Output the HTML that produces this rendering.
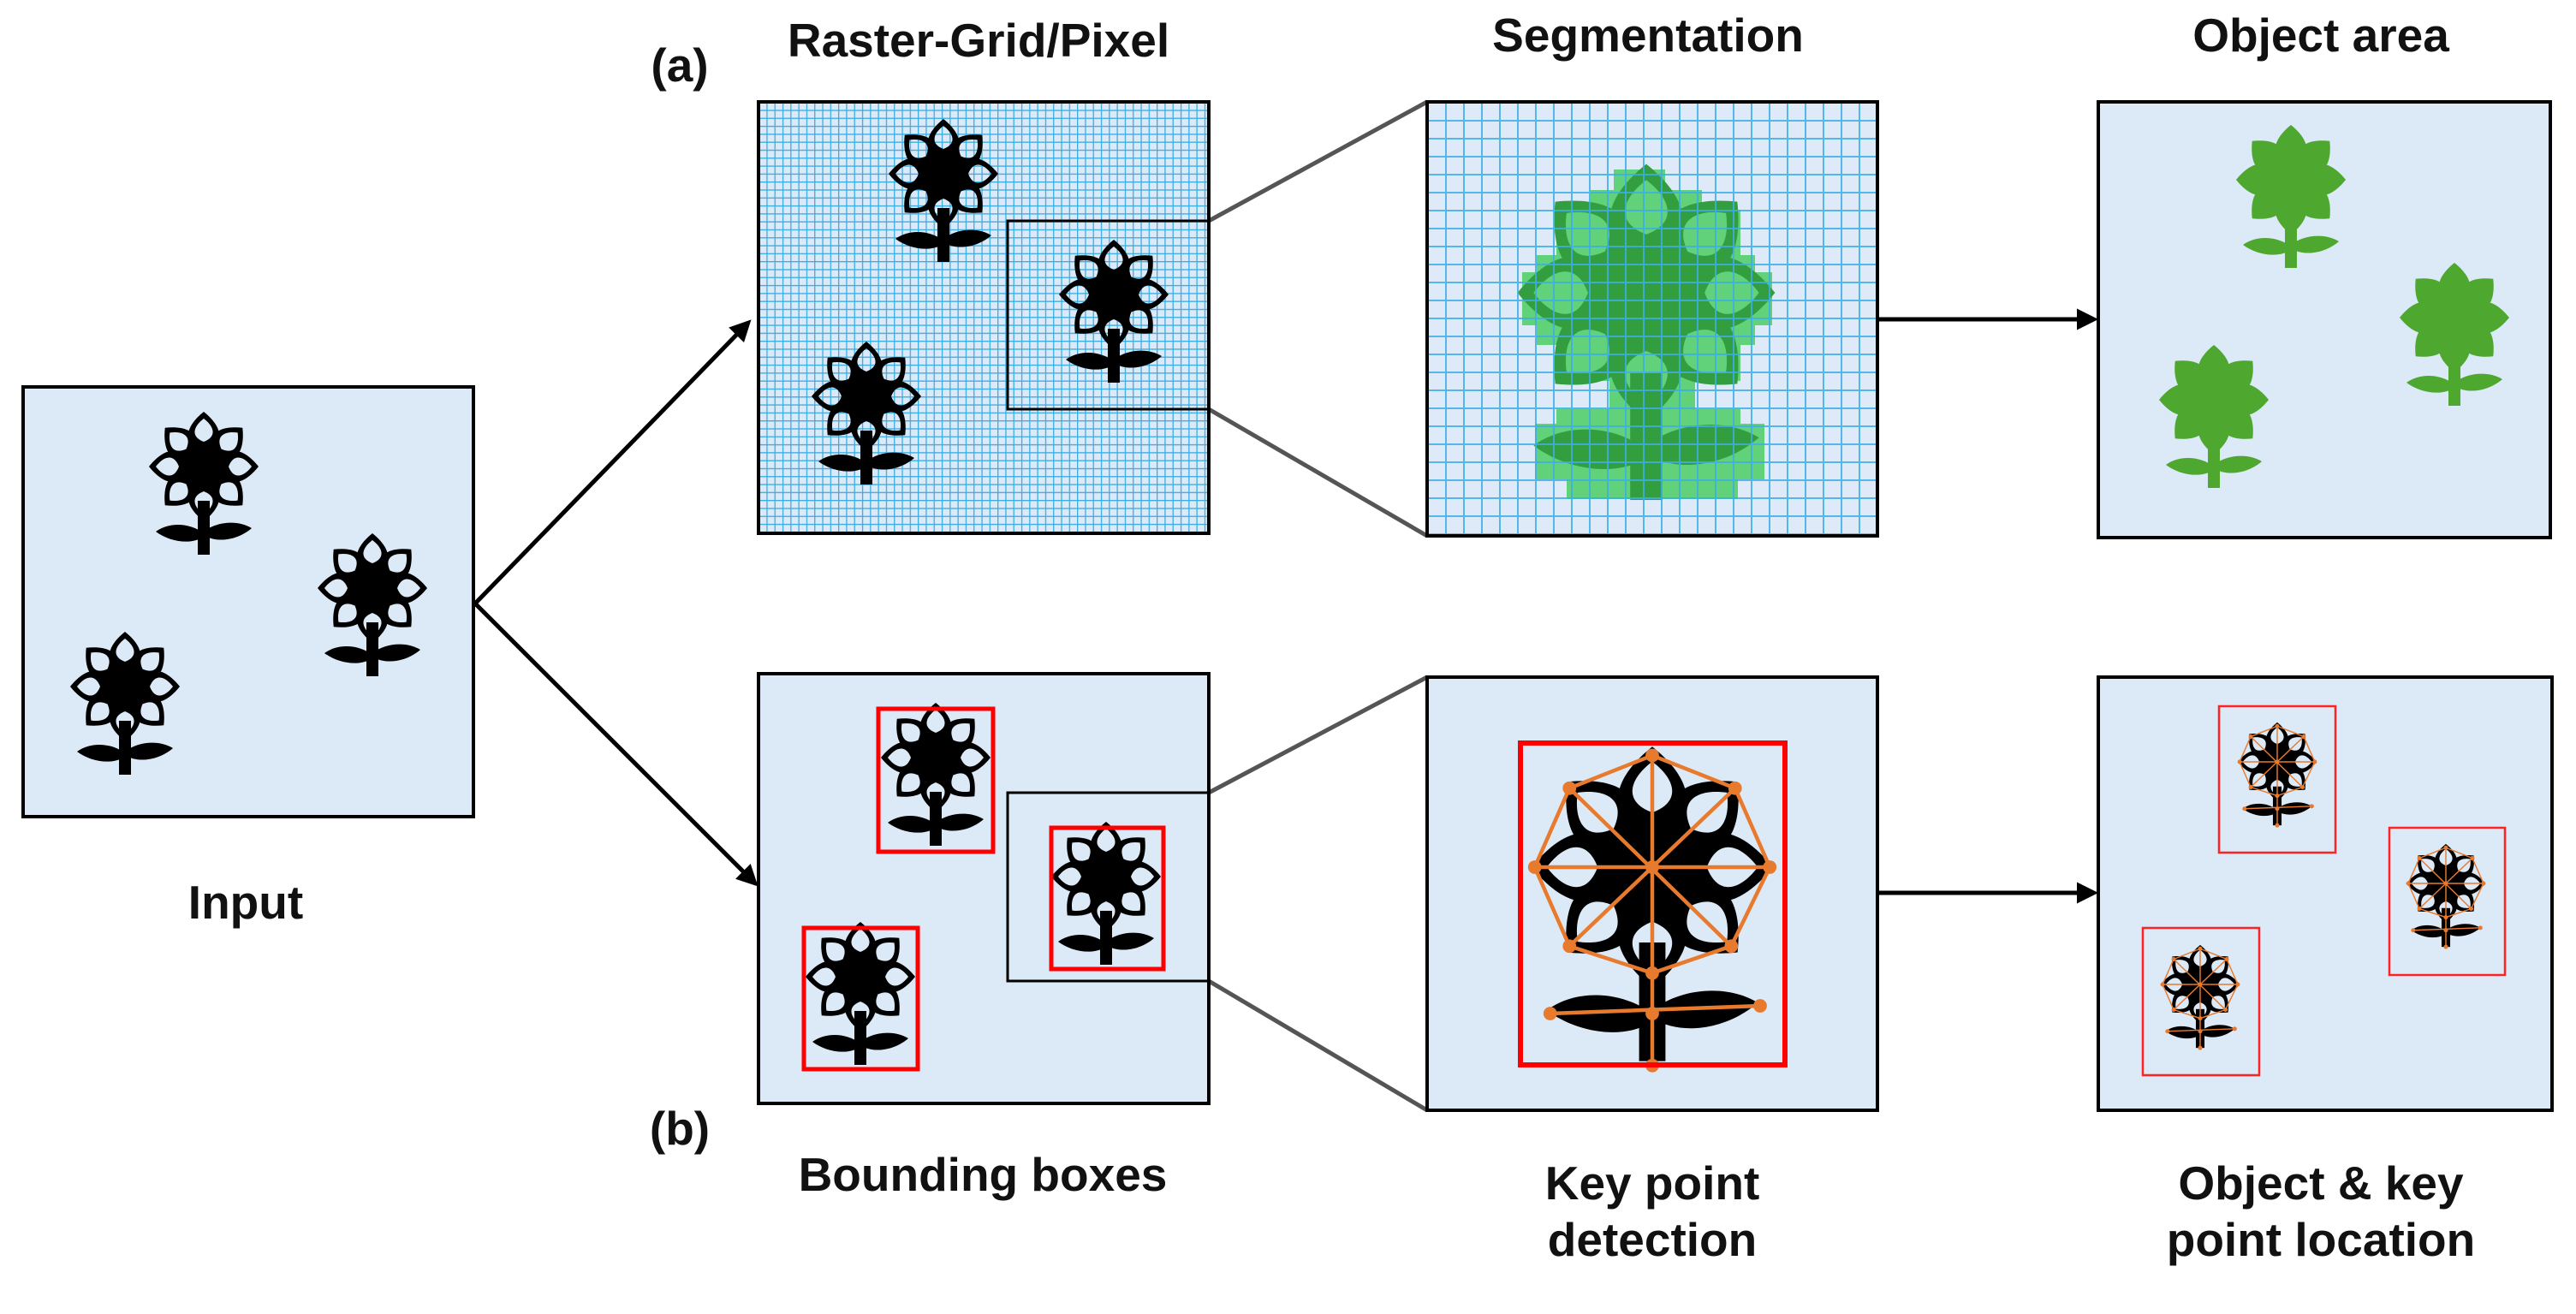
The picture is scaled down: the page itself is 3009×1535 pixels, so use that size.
<!DOCTYPE html>
<html><head><meta charset="utf-8"><style>html,body{margin:0;padding:0;background:#fff}svg{display:block}</style></head>
<body>
<svg width="3009" height="1535" viewBox="0 0 3009 1535" xmlns="http://www.w3.org/2000/svg">
<defs>
<pattern id="g1" x="886" y="119" width="9.3" height="9.3" patternUnits="userSpaceOnUse">
<rect width="9.3" height="9.3" fill="#dce9f8"/>
<path d="M0,0 H9.3 M0,0 V9.3" stroke="#3aaee0" stroke-width="2.6"/>
</pattern>
<pattern id="g2" x="1667" y="119" width="21" height="21" patternUnits="userSpaceOnUse">
<path d="M0,0.5 H21 M0.5,0 V21" stroke="#3aaee8" stroke-width="3" opacity="0.85"/>
</pattern>
<g id="peto"><path d="M0,-16 C28,-28 20,-48 0,-64 C-20,-48 -28,-28 0,-16Z"/></g>
<g id="hole"><path d="M0,-29 C16,-35 12,-47 0,-56 C-12,-47 -16,-35 0,-29Z"/></g>
<mask id="pm" maskUnits="userSpaceOnUse" x="-120" y="-120" width="240" height="260">
<g fill="#fff">
<use href="#peto"/><use href="#peto" transform="rotate(45)"/><use href="#peto" transform="rotate(90)"/><use href="#peto" transform="rotate(135)"/><use href="#peto" transform="rotate(180)"/><use href="#peto" transform="rotate(225)"/><use href="#peto" transform="rotate(270)"/><use href="#peto" transform="rotate(315)"/>
</g>
<g fill="#000">
<use href="#hole"/><use href="#hole" transform="rotate(45)"/><use href="#hole" transform="rotate(90)"/><use href="#hole" transform="rotate(135)"/><use href="#hole" transform="rotate(180)"/><use href="#hole" transform="rotate(225)"/><use href="#hole" transform="rotate(270)"/><use href="#hole" transform="rotate(315)"/>
</g>
</mask>
<g id="fl" fill="#000">
<rect x="-70" y="-70" width="140" height="140" mask="url(#pm)"/>
<circle r="26"/>
<rect x="-7" y="40" width="14" height="63"/>
<path d="M0,78 C-15,66 -40,64 -56,76 C-40,88 -15,92 0,82Z M0,76 C15,64 40,62 56,72 C40,86 15,90 0,80Z"/>
</g>
<g id="gf" fill="#4ea72e">
<use href="#peto"/><use href="#peto" transform="rotate(45)"/><use href="#peto" transform="rotate(90)"/><use href="#peto" transform="rotate(135)"/><use href="#peto" transform="rotate(180)"/><use href="#peto" transform="rotate(225)"/><use href="#peto" transform="rotate(270)"/><use href="#peto" transform="rotate(315)"/>
<circle r="34"/>
<rect x="-7" y="30" width="14" height="73"/>
<path d="M0,78 C-15,66 -40,64 -56,76 C-40,88 -15,92 0,82Z M0,76 C15,64 40,62 56,72 C40,86 15,90 0,80Z"/>
</g>
<g id="sf" fill="#339e3f">
<rect x="-70" y="-70" width="140" height="140" mask="url(#pm)"/>
<circle r="27"/>
<rect x="-8" y="40" width="16" height="63"/>
<path d="M0,78 C-15,66 -40,64 -56,76 C-40,88 -15,92 0,82Z M0,76 C15,64 40,62 56,72 C40,86 15,90 0,80Z"/>
</g>
<g id="kp" stroke="#e87a2e" fill="#e87a2e">
<g fill="none" stroke-width="2">
<path d="M0,-58 L43,-41 L61,0 L41,41 L0,55 L-43,41 L-61,0 L-43,-41Z"/>
<path d="M0,-58 V103 M-61,0 H61 M-43,-41 L41,41 M43,-41 L-43,41 M-53,76 L56,72"/>
</g>
<circle cx="0" cy="-58" r="3"/><circle cx="43" cy="-41" r="3"/><circle cx="61" cy="0" r="3"/><circle cx="41" cy="41" r="3"/><circle cx="0" cy="55" r="3"/><circle cx="-43" cy="41" r="3"/><circle cx="-61" cy="0" r="3"/><circle cx="-43" cy="-41" r="3"/><circle cx="0" cy="0" r="3"/><circle cx="-53" cy="76" r="3"/><circle cx="56" cy="72" r="3"/><circle cx="0" cy="76" r="3"/><circle cx="0" cy="103" r="3"/>
</g>
<marker id="ah" markerWidth="5" markerHeight="5" refX="4" refY="2.5" orient="auto" markerUnits="strokeWidth"><path d="M0,0 L5,2.5 L0,5 Z" fill="#000"/></marker>
</defs>

<g font-family="'Liberation Sans', sans-serif" font-weight="bold" font-size="55" fill="#111" text-anchor="middle">
<text x="794" y="95">(a)</text>
<text x="1143" y="66">Raster-Grid/Pixel</text>
<text x="1925" y="60">Segmentation</text>
<text x="2711" y="60">Object area</text>
<text x="287" y="1073">Input</text>
<text x="794" y="1337">(b)</text>
<text x="1148" y="1391">Bounding boxes</text>
<text x="1930" y="1401">Key point</text>
<text x="1930" y="1467">detection</text>
<text x="2711" y="1401">Object &amp; key</text>
<text x="2711" y="1467">point location</text>
</g>

<g stroke="#555" stroke-width="5">
<line x1="1412" y1="258" x2="1667" y2="119"/>
<line x1="1412" y1="478" x2="1667" y2="626"/>
<line x1="1412" y1="926" x2="1667" y2="791"/>
<line x1="1412" y1="1146" x2="1667" y2="1297"/>
</g>
<g stroke="#000" stroke-width="5" fill="none">
<line x1="555" y1="705" x2="874" y2="377" marker-end="url(#ah)"/>
<line x1="555" y1="705" x2="882" y2="1032" marker-end="url(#ah)"/>
<line x1="2193" y1="373" x2="2446" y2="373" marker-end="url(#ah)"/>
<line x1="2193" y1="1043" x2="2446" y2="1043" marker-end="url(#ah)"/>
</g>

<rect x="27" y="452" width="526" height="502" fill="#dce9f7" stroke="#000" stroke-width="4"/>
<use href="#fl" transform="translate(238,545)"/>
<use href="#fl" transform="translate(435,687)"/>
<use href="#fl" transform="translate(146,802)"/>

<rect x="886" y="119" width="526" height="504" fill="url(#g1)" stroke="#000" stroke-width="4"/>
<use href="#fl" transform="translate(1102,203)"/>
<use href="#fl" transform="translate(1301,344)"/>
<use href="#fl" transform="translate(1012,463)"/>
<rect x="1177" y="258" width="235" height="220" fill="none" stroke="#000" stroke-width="3"/>

<rect x="1667" y="119" width="526" height="507" fill="#dfeaf8"/>
<g fill="#62d27a">
<rect x="1885" y="198" width="60" height="30"/>
<rect x="1858" y="222" width="130" height="30"/>
<rect x="1818" y="245" width="215" height="200"/>
<rect x="1778" y="318" width="292" height="62"/>
<rect x="1795" y="298" width="255" height="105"/>
<rect x="1880" y="440" width="100" height="45"/>
<rect x="1818" y="478" width="215" height="20"/>
<rect x="1793" y="495" width="268" height="65"/>
<rect x="1830" y="555" width="200" height="28"/>
</g>
<use href="#sf" transform="translate(1923,342) scale(2.35)"/>
<rect x="1667" y="119" width="526" height="507" fill="url(#g2)" stroke="#000" stroke-width="4"/>

<rect x="2451" y="119" width="528" height="509" fill="#dce9f7" stroke="#000" stroke-width="4"/>
<use href="#gf" transform="translate(2676,210)"/>
<use href="#gf" transform="translate(2867,371)"/>
<use href="#gf" transform="translate(2586,467)"/>

<rect x="886" y="787" width="526" height="502" fill="#dce9f7" stroke="#000" stroke-width="4"/>
<use href="#fl" transform="translate(1093,885)"/>
<use href="#fl" transform="translate(1292,1024)"/>
<use href="#fl" transform="translate(1005,1141)"/>
<g fill="none" stroke="#f00" stroke-width="5">
<rect x="1026" y="828" width="134" height="167"/>
<rect x="939" y="1084" width="133" height="165"/>
<rect x="1228" y="967" width="131" height="165"/>
</g>
<rect x="1177" y="926" width="235" height="220" fill="none" stroke="#000" stroke-width="3"/>

<rect x="1667" y="791" width="526" height="506" fill="#dce9f7" stroke="#000" stroke-width="4"/>
<use href="#fl" transform="translate(1930,1013) scale(2.2)"/>
<use href="#kp" transform="translate(1930,1013) scale(2.25)"/>
<rect x="1776" y="868" width="309" height="376" fill="none" stroke="#f00" stroke-width="6"/>

<rect x="2451" y="791" width="530" height="506" fill="#dce9f7" stroke="#000" stroke-width="4"/>
<g transform="translate(2660,890) scale(0.72)"><use href="#fl"/><use href="#kp"/></g>
<g transform="translate(2857,1032) scale(0.72)"><use href="#fl"/><use href="#kp"/></g>
<g transform="translate(2570,1150) scale(0.72)"><use href="#fl"/><use href="#kp"/></g>
<g fill="none" stroke="#f22" stroke-width="2.5">
<rect x="2592" y="825" width="136" height="171"/>
<rect x="2791" y="967" width="135" height="172"/>
<rect x="2503" y="1084" width="136" height="172"/>
</g>
</svg>
</body></html>
